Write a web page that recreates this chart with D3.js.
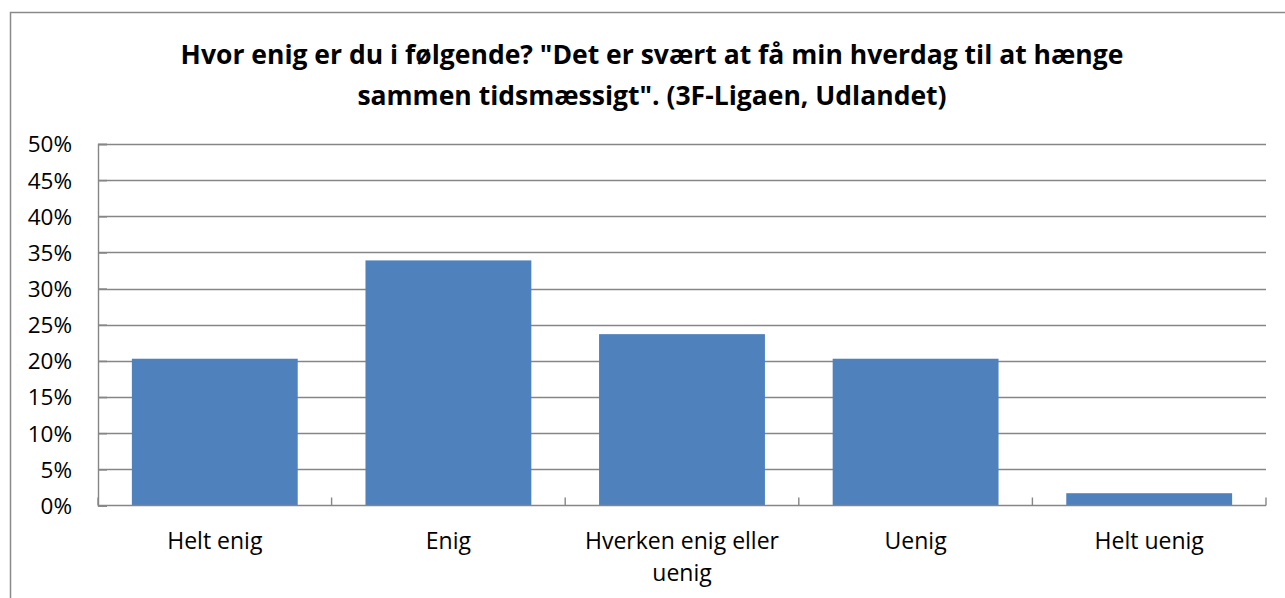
<!DOCTYPE html>
<html>
<head>
<meta charset="utf-8">
<script src="https://cdn.jsdelivr.net/npm/d3@7"></script>
<style>
  html, body { margin: 0; padding: 0; background: #fff; }
  svg { display: block; }
  text { font-family: "Open Sans", "Noto Sans", sans-serif; fill: #000; }
</style>
</head>
<body>
<svg id="chart" width="1285" height="598"></svg>
<script>
// Survey answers (share of respondents)
const categories = ["Helt enig", "Enig", "Hverken enig eller uenig", "Uenig", "Helt uenig"];
const categoryLines = [["Helt enig"], ["Enig"], ["Hverken enig eller", "uenig"], ["Uenig"], ["Helt uenig"]];
const values = [0.203, 0.339, 0.237, 0.203, 0.017];
const yTicks = [0, 0.05, 0.10, 0.15, 0.20, 0.25, 0.30, 0.35, 0.40, 0.45, 0.50];
const titleLines = [
  "Hvor enig er du i følgende? \"Det er svært at få min hverdag til at hænge",
  "sammen tidsmæssigt\". (3F-Ligaen, Udlandet)"
];

const svg = d3.select("#chart");
const plot = { left: 98, right: 1266, top: 144, bottom: 505.5 };
const grey = "#868686";

// outer chart frame (extends past the right/bottom of the view)
svg.append("rect")
  .attr("x", 10.5).attr("y", 12.5)
  .attr("width", 1300).attr("height", 700)
  .attr("fill", "#fff").attr("stroke", "#8a8a8a").attr("stroke-width", 1.5);

// title, fitted to the width of its first line
const title = svg.append("g");
const tl = titleLines.map((t, i) => title.append("text")
  .attr("x", 652).attr("y", 64 + i * 41)
  .attr("text-anchor", "middle")
  .attr("font-weight", "bold")
  .attr("font-size", 24)
  .text(t));
const w0 = tl[0].node().getComputedTextLength();
const fs = 24 * 943 / w0;
tl.forEach(t => t.attr("font-size", fs));

const x = d3.scaleBand().domain(categories).range([plot.left, plot.right]).paddingInner(0.29).paddingOuter(0.145);
const xOuter = d3.scaleBand().domain(categories).range([plot.left, plot.right]);
const y = d3.scaleLinear().domain([0, 0.5]).range([plot.bottom, plot.top]);

// horizontal gridlines
svg.append("g").selectAll("line").data(yTicks.slice(1)).join("line")
  .attr("x1", plot.left).attr("x2", plot.right)
  .attr("y1", d => Math.round(y(d)) + 0.5).attr("y2", d => Math.round(y(d)) + 0.5)
  .attr("stroke", grey).attr("stroke-width", 1.4);

// bars
svg.append("g").selectAll("rect").data(values).join("rect")
  .attr("x", (d, i) => x(categories[i]))
  .attr("width", x.bandwidth())
  .attr("y", d => y(d))
  .attr("height", d => plot.bottom - y(d))
  .attr("fill", "#4F81BD");

// y axis
const yAxis = d3.axisLeft(y).tickValues(yTicks).tickSize(-9).tickPadding(26)
  .tickFormat(d => Math.round(d * 100) + "%");
const ya = svg.append("g").attr("transform", `translate(${plot.left},0)`).call(yAxis);
ya.select(".domain").attr("stroke", grey).attr("stroke-width", 1.4);
ya.selectAll(".tick line").attr("stroke", grey).attr("stroke-width", 1.6);
ya.selectAll(".tick text").attr("font-size", 22.5).attr("font-family", "\"Open Sans\", sans-serif")
  .attr("fill", "#000").attr("dy", "0.35em");

// x axis baseline and category separators
const xa = svg.append("g");
xa.append("line").attr("x1", plot.left).attr("x2", plot.right)
  .attr("y1", plot.bottom).attr("y2", plot.bottom)
  .attr("stroke", grey).attr("stroke-width", 1.4);
const bounds = categories.map(c => xOuter(c)).concat([plot.right]);
xa.selectAll("line.sep").data(bounds).join("line").attr("class", "sep")
  .attr("x1", d => d).attr("x2", d => d)
  .attr("y1", plot.bottom).attr("y2", plot.bottom - 8)
  .attr("stroke", grey).attr("stroke-width", 1.4);

// category labels
const lab = svg.append("g").selectAll("text").data(categories).join("text")
  .attr("x", c => xOuter(c) + xOuter.bandwidth() / 2)
  .attr("y", 549)
  .attr("text-anchor", "middle")
  .attr("font-size", 23);
lab.each(function(c, i) {
  const t = d3.select(this);
  categoryLines[i].forEach((line, j) => {
    t.append("tspan")
      .attr("x", xOuter(c) + xOuter.bandwidth() / 2)
      .attr("dy", j === 0 ? 0 : 32)
      .text(line);
  });
});
</script>
</body>
</html>
